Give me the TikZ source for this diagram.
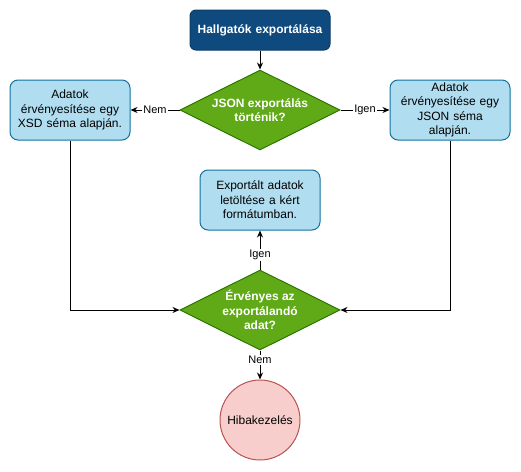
\documentclass[tikz,border=0pt]{standalone}
\usepackage{fontspec}
\setmainfont{Liberation Sans}
\usetikzlibrary{arrows.meta,positioning,shapes.geometric}
\usepackage{xcolor}
\definecolor{navy}{HTML}{0F4A7F}
\definecolor{navyline}{HTML}{0B3B66}
\definecolor{skyfill}{HTML}{B1DDF0}
\definecolor{skyline}{HTML}{10739E}
\definecolor{leaf}{HTML}{60A917}
\definecolor{leafline}{HTML}{2D7600}
\definecolor{rose}{HTML}{F8CECC}
\definecolor{roseline}{HTML}{B85450}

\begin{document}
\begin{tikzpicture}[
  x=1pt, y=-1pt,
  font=\fontsize{12}{14.5}\selectfont,
  box/.style={draw, rounded corners=8pt, minimum width=120pt, minimum height=60pt, text width=114pt, align=center, inner sep=0pt},
  procb/.style={box, fill=skyfill, draw=skyline},
  startb/.style={box, fill=navy, draw=navyline, text=white, font=\fontsize{12}{14.5}\selectfont\bfseries,
    minimum width=140pt, minimum height=40pt, text width=134pt, rounded corners=6pt},
  decb/.style={diamond, aspect=2, minimum width=160pt, minimum height=80pt, inner sep=-4pt, align=center,
    fill=leaf, draw=leafline, text=white, font=\fontsize{12}{14.5}\selectfont\bfseries},
  errb/.style={circle, minimum size=80pt, inner sep=0pt, fill=rose, draw=roseline},
  lbl/.style={fill=white, inner sep=1pt, font=\fontsize{11}{13}\selectfont},
  >={Stealth[length=7pt,width=6pt]}, line width=1pt
]
\useasboundingbox (0,0) rectangle (521,471);

\node[startb] (start) at (260,30) {Hallgatók exportálása};
\node[decb] (isjson) at (260,110) {JSON exportálás\\történik?};
\node[procb] (xsd) at (70,110) {Adatok\\érvényesítése egy\\XSD séma alapján.};
\node[procb] (jsonv) at (450,110) {Adatok\\érvényesítése egy\\JSON séma\\alapján.};
\node[procb] (export) at (260,200) {Exportált adatok\\letöltése a kért\\formátumban.};
\node[decb] (valid) at (260,310) {Érvényes az\\exportálandó\\adat?};
\node[errb] (err) at (260,420) {Hibakezelés};

\draw[->] (start) -- (isjson);
\draw[->] (isjson) -- node[lbl]{Nem} (xsd);
\draw[->] (isjson) -- node[lbl]{Igen} (jsonv);
\draw[->] (xsd) |- (valid);
\draw[->] (jsonv) |- (valid);
\draw[->] (valid) -- node[lbl, pos=0.38]{Igen} (export);
\draw[->] (valid) -- node[lbl, pos=0.33]{Nem} (err);

\end{tikzpicture}
\end{document}
